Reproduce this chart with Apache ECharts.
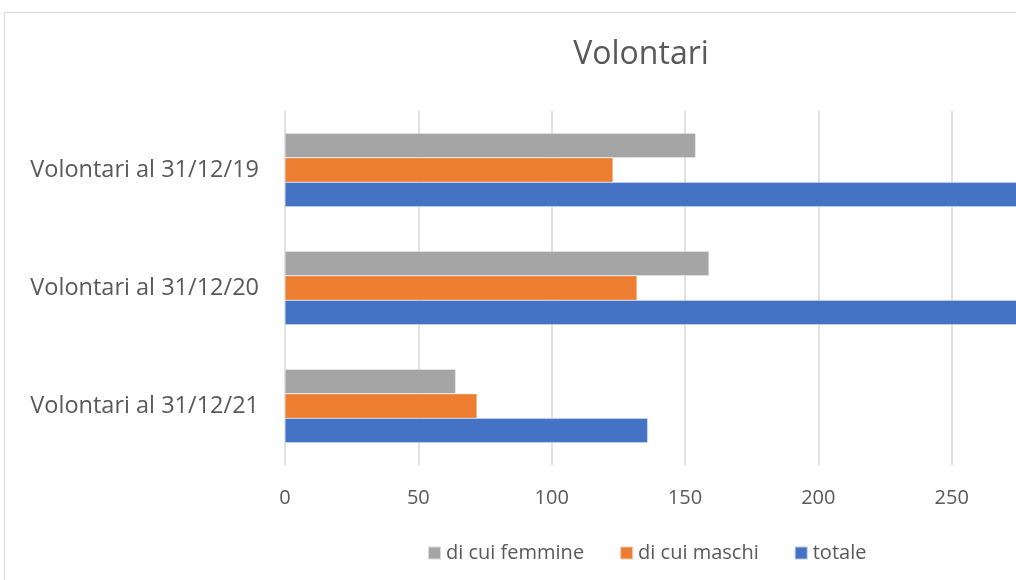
<!DOCTYPE html>
<html>
<head>
<meta charset="utf-8">
<script src="https://cdn.jsdelivr.net/npm/echarts@6/dist/echarts.min.js"></script>
<style>
  html, body { margin: 0; padding: 0; background: #fff; }
  #main { width: 1016px; height: 580px; }
</style>
</head>
<body>
<div id="main"></div>
<script>
// dati
var categorie = ['Volontari al 31/12/19', 'Volontari al 31/12/20', 'Volontari al 31/12/21'];
var femmine = [154, 159, 64];
var maschi = [123, 132, 72];
var totale = [277, 291, 136];
var nomiSerie = ['di cui femmine', 'di cui maschi', 'totale'];
var colori = ['#a5a5a5', '#ed7d31', '#4472c4'];

var myChart = echarts.init(document.getElementById('main'));
var font = 'Open Sans';

function serie(nome, valori, colore) {
    return {
        name: nome,
        type: 'bar',
        data: valori,
        barWidth: 24.5,
        barGap: '0%',
        itemStyle: { color: colore, borderColor: 'rgba(255,255,255,0.6)', borderWidth: 0.5 },
        animation: false
    };
}

var option = {
    color: colori,
    title: {
        text: 'Volontari',
        left: 636,
        textAlign: 'center',
        top: 34,
        textStyle: { fontFamily: font, fontWeight: 'normal', fontSize: 32, color: '#595959' }
    },
    legend: {
        data: nomiSerie,
        left: 422,
        top: 538,
        itemWidth: 13,
        itemHeight: 13,
        itemGap: 35,
        icon: 'rect',
        textStyle: { fontFamily: font, fontSize: 20, color: '#595959' }
    },
    grid: { left: 285, top: 111, width: 800, height: 354, outerBoundsMode: 'none', containLabel: false },
    xAxis: {
        type: 'value',
        min: 0,
        max: 300,
        interval: 50,
        axisLine: { show: false },
        axisTick: { show: false },
        axisLabel: { fontFamily: font, fontSize: 20, color: '#595959', margin: 23 },
        splitLine: { lineStyle: { color: '#d9d9d9', width: 1.5 } }
    },
    yAxis: {
        type: 'category',
        data: categorie,
        inverse: true,
        axisLine: { show: false },
        axisTick: { show: false },
        axisLabel: { fontFamily: font, fontSize: 23.5, color: '#595959', margin: 26 }
    },
    graphic: [{
        type: 'rect',
        shape: { x: 4.5, y: 12.5, width: 1100, height: 700 },
        style: { fill: 'none', stroke: '#d9d9d9', lineWidth: 1 },
        silent: true,
        z: -10
    }],
    series: [
        serie(nomiSerie[0], femmine, colori[0]),
        serie(nomiSerie[1], maschi, colori[1]),
        serie(nomiSerie[2], totale, colori[2])
    ]
};

myChart.setOption(option);
</script>
</body>
</html>
